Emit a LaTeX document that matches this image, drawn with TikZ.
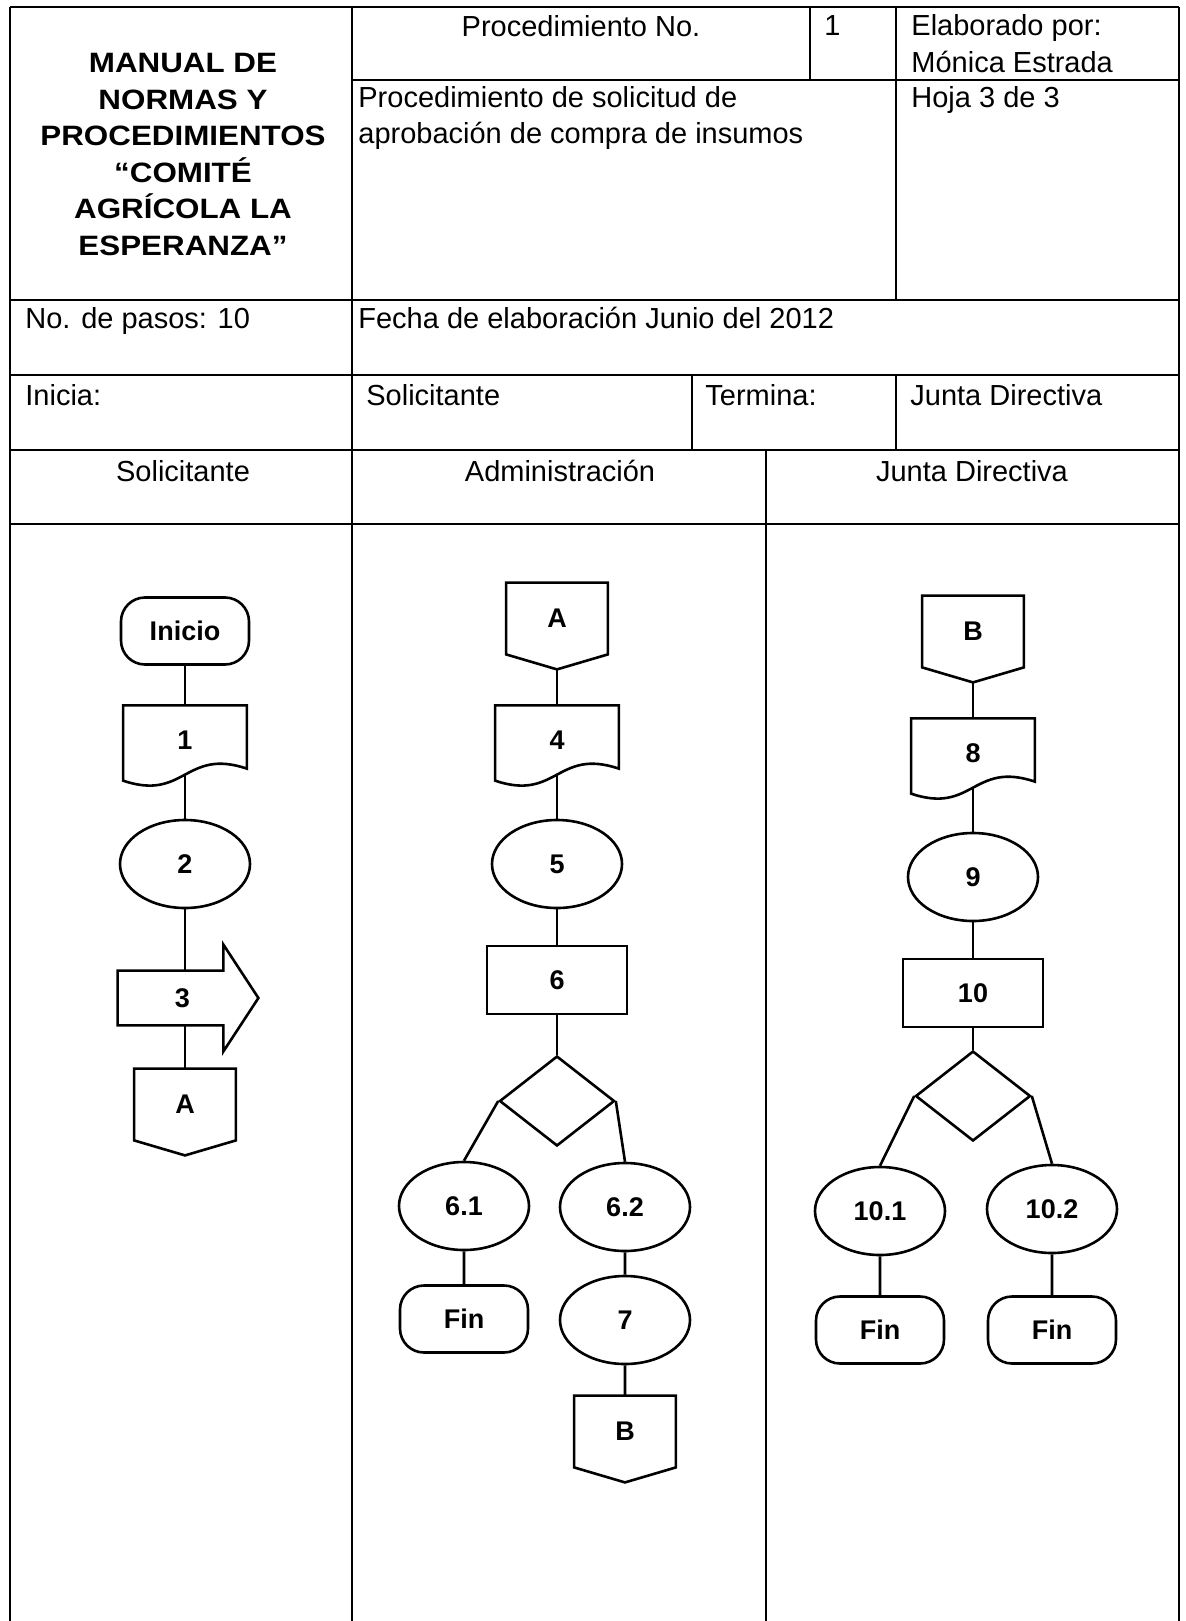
\documentclass[tikz,border=0pt]{standalone}
\usepackage{fontspec}
\setmainfont{Liberation Sans}
\newfontfamily\titlefont[FakeStretch=1.12]{Liberation Sans}
\usepackage{tikz}
\usetikzlibrary{positioning,calc,shapes.geometric}

\newcommand{\docoutline}[1]{%
  \draw[shapeline] ($(#1.south west)+(0,6)$) -- (#1.north west) -- (#1.north east)
    -- ($(#1.south east)+(0,-6)$) .. controls ($(#1.south)+(0,-27)$) and ($(#1.south)+(0,27)$) .. ($(#1.south west)+(0,6)$) -- cycle;}
\newcommand{\offpage}[1]{%
  \draw[shapeline] (#1.north west) -- (#1.north east) -- (#1.south east)
    -- ($(#1.south)+(0,15)$) coordinate (#1-tip) -- (#1.south west) -- cycle;}
\newcommand{\arrowoutline}[1]{%
  \draw[shapeline] (#1.north west) -- (#1.north east) -- ($(#1.north east)+(0,-26)$)
    -- ($(#1.east)+(35,0)$) -- ($(#1.south east)+(0,26)$) -- (#1.south east) -- (#1.south west) -- cycle;}

\begin{document}
\begin{tikzpicture}[
    x=0.5pt, y=-0.5pt,
    tabline/.style={line width=1.1pt},
    shapeline/.style={line width=1.3pt},
    cell/.style={font=\fontsize{14.5}{18}\selectfont, inner sep=0pt},
    lbl/.style={font=\fontsize{13.5}{16}\selectfont\bfseries, inner sep=0pt},
    terminal/.style={lbl, draw, shapeline, rounded corners=12pt, minimum width=64pt, minimum height=33.5pt},
    proc/.style={lbl, draw, shapeline, minimum width=70pt, minimum height=34pt},
    oval/.style={lbl, draw, shapeline, ellipse, minimum width=65pt, minimum height=44pt},
    docnode/.style={lbl, minimum width=61.5pt, minimum height=34.25pt},
    pagecon/.style={lbl, minimum width=50.5pt, minimum height=35.5pt},
    arrowbody/.style={lbl, minimum width=52.5pt, minimum height=27pt},
    decision/.style={draw, shapeline, diamond, minimum width=57.5pt, minimum height=45pt, inner sep=0pt}
  ]
    \useasboundingbox (0,0) rectangle (1186,1621);

    \draw[tabline] (10,7) -- (1179,7) (10,7) -- (10,1621) (1179,7) -- (1179,1621) (352,7) -- (352,1621);
    \draw[tabline] (352,80) -- (1179,80) (810,7) -- (810,80) (896,7) -- (896,300);
    \draw[tabline] (10,300) -- (1179,300) (10,375) -- (1179,375) (10,450) -- (1179,450) (10,524) -- (1179,524);
    \draw[tabline] (692,375) -- (692,450) (896,375) -- (896,450) (766,450) -- (766,1621);

    \node[inner sep=0pt, anchor=north, align=center, font=\titlefont\fontsize{14}{18.25}\selectfont\bfseries] (title) at (183,53) {
      MANUAL DE\\NORMAS Y\\PROCEDIMIENTOS\\“COMITÉ\\AGRÍCOLA LA\\ESPERANZA”};
    \node[cell, anchor=base] (procno) at (581,37) {Procedimiento No.};
    \node[cell, anchor=base west] (procnum) at (824,36) {1};
    \node[cell, anchor=north west, align=left, font=\fontsize{14.5}{18.5}\selectfont] (autor) at (911,14) {Elaborado por:\\Mónica Estrada};
    \node[cell, anchor=north west, align=left] (procname) at (358,86) {Procedimiento de solicitud de\\aprobación de compra de insumos};
    \node[cell, anchor=base west] (hoja) at (911,108) {Hoja 3 de 3};
    \node[cell, anchor=base west] (pasos) at (25,328) {No. de pasos: 10};
    \node[cell, anchor=base west] (fecha) at (358,328) {Fecha de elaboración Junio del 2012};
    \node[cell, anchor=base west] (inicia) at (25,405) {Inicia:};
    \node[cell, anchor=base west] (inisol) at (366,405) {Solicitante};
    \node[cell, anchor=base west] (termina) at (705,405) {Termina:};
    \node[cell, anchor=base west] (termjd) at (910,405) {Junta Directiva};
    \node[cell, anchor=base] (laneSol) at (183,481) {Solicitante};
    \node[cell, anchor=base] (laneAdm) at (560,481) {Administración};
    \node[cell, anchor=base] (laneJD) at (972,481) {Junta Directiva};

    \node[terminal] (ini) at (185,631) {Inicio};
    \node[docnode] (d1) at (185,740) {1};
    \node[oval] (e2) at (185,864) {2};
    \node[arrowbody] (ar3) at (170.5,998) {\hspace*{12pt}3};
    \node[pagecon] (A1) at (185,1104.5) {A};

    \node[pagecon] (A2) at (557,618.5) {A};
    \node[docnode] (d4) at (557,740) {4};
    \node[oval] (e5) at (557,864) {5};
    \node[proc] (r6) at (557,980) {6};
    \node[decision] (dec6) at (557,1101) {};
    \node[oval] (e61) at (464,1206) {6.1};
    \node[oval] (e62) at (625,1207) {6.2};
    \node[terminal] (fin61) at (464,1319) {Fin};
    \node[oval] (e7) at (625,1320) {7};
    \node[pagecon] (B2) at (625,1431.5) {B};

    \node[pagecon] (B3) at (973,631.5) {B};
    \node[docnode] (d8) at (973,753) {8};
    \node[oval] (e9) at (973,877) {9};
    \node[proc] (r10) at (973,993) {10};
    \node[decision] (dec10) at (973,1096) {};
    \node[oval] (e101) at (880,1211) {10.1};
    \node[oval] (e102) at (1052,1209) {10.2};
    \node[terminal] (fin101) at (880,1330) {Fin};
    \node[terminal] (fin102) at (1052,1330) {Fin};

    \docoutline{d1}
    \docoutline{d4}
    \docoutline{d8}
    \arrowoutline{ar3}
    \offpage{A1}
    \offpage{A2}
    \offpage{B2}
    \offpage{B3}

    \draw[shapeline] (ini) -- (d1) (d1) -- (e2) (e2.south) -- (e2.south |- ar3.north) (A1.north |- ar3.south) -- (A1.north);
    \draw[shapeline] (A2-tip) -- (d4.north) (d4) -- (e5) (e5) -- (r6) (r6) -- (dec6);
    \draw[shapeline] (dec6.west) -- (e61.north) (dec6.east) -- (e62.north) (e61) -- (fin61) (e62) -- (e7) (e7) -- (B2);
    \draw[shapeline] (B3-tip) -- (d8.north) (d8) -- (e9) (e9) -- (r10) (r10) -- (dec10);
    \draw[shapeline] (dec10.west) -- (e101.north) (dec10.east) -- (e102.north) (e101) -- (fin101) (e102) -- (fin102);
  \end{tikzpicture}
\end{document}
